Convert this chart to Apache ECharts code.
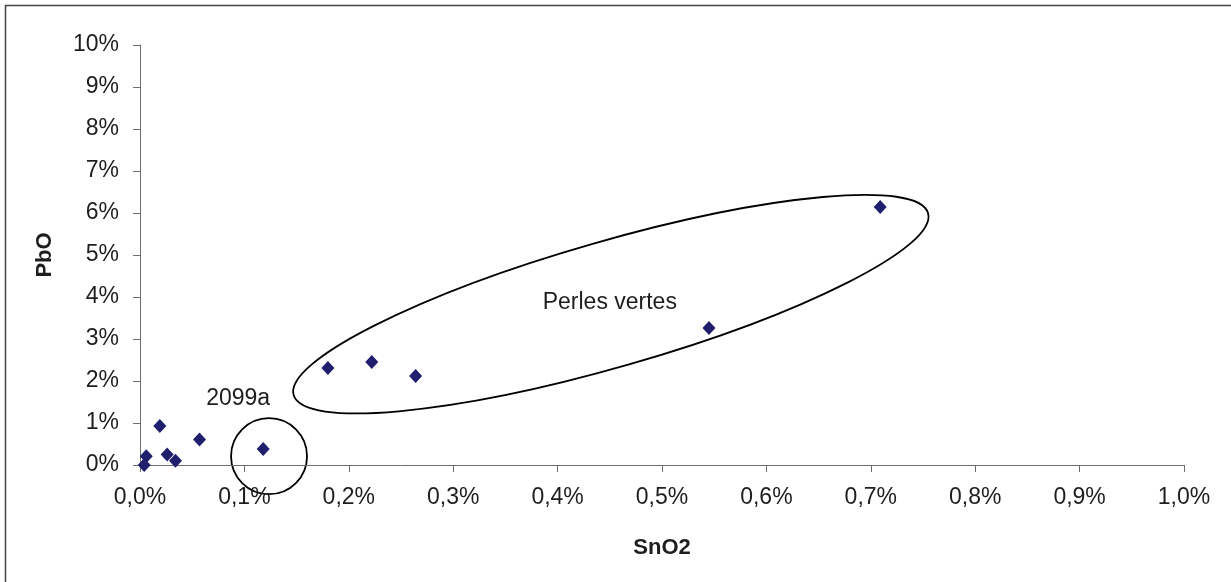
<!DOCTYPE html>
<html>
<head>
<meta charset="utf-8">
<script src="https://cdn.jsdelivr.net/npm/echarts@6/dist/echarts.min.js"></script>
<style>
  html, body { margin: 0; padding: 0; background: #ffffff; }
  #chart { width: 1231px; height: 582px; }
</style>
</head>
<body>
<div id="chart"></div>
<script>
// SnO2 (%) and PbO (%) values
const sno2 = [0.004, 0.006, 0.019, 0.026, 0.034, 0.057, 0.118, 0.180, 0.222, 0.264, 0.545, 0.709];
const pbo  = [0.00, 0.21, 0.93, 0.25, 0.10, 0.61, 0.38, 2.31, 2.45, 2.12, 3.26, 6.14];

const xTickLabels = ['0,0%', '0,1%', '0,2%', '0,3%', '0,4%', '0,5%', '0,6%', '0,7%', '0,8%', '0,9%', '1,0%'];
const yTickLabels = ['0%', '1%', '2%', '3%', '4%', '5%', '6%', '7%', '8%', '9%', '10%'];

const xTitle = 'SnO2';
const yTitle = 'PbO';
const groupLabels = ['Perles vertes', '2099a'];

const FONT = '"Liberation Sans", Arial, sans-serif';
const TXT = '#1e1e1e';
const AX = '#6e6e6e';

const chart = echarts.init(document.getElementById('chart'), null, { renderer: 'canvas' });

const points = sno2.map((v, i) => [v, pbo[i]]);

chart.setOption({
  animation: false,
  backgroundColor: '#ffffff',
  grid: { left: 140, top: 45, right: 47, bottom: 117, containLabel: false },
  xAxis: {
    type: 'value', min: 0, max: 1.0, interval: 0.1,
    name: xTitle, nameLocation: 'middle', nameGap: 72,
    nameTextStyle: { color: TXT, fontFamily: FONT, fontSize: 22, fontWeight: 'bold' },
    axisLine: { show: true, onZero: false, lineStyle: { color: AX, width: 1 } },
    axisTick: { show: true, inside: false, length: 7, lineStyle: { color: AX } },
    splitLine: { show: false },
    axisLabel: {
      margin: 21, color: TXT, fontFamily: FONT, fontSize: 23,
      formatter: v => xTickLabels[Math.round(v * 10)]
    }
  },
  yAxis: {
    type: 'value', min: 0, max: 10, interval: 1,
    name: yTitle, nameLocation: 'middle', nameGap: 95, nameRotate: 90,
    nameTextStyle: { color: TXT, fontFamily: FONT, fontSize: 22, fontWeight: 'bold', verticalAlign: 'middle' },
    axisLine: { show: true, onZero: false, lineStyle: { color: AX, width: 1 } },
    axisTick: { show: true, inside: false, length: 7, lineStyle: { color: AX } },
    splitLine: { show: false },
    axisLabel: {
      margin: 21, color: TXT, fontFamily: FONT, fontSize: 23,
      formatter: v => yTickLabels[Math.round(v)]
    }
  },
  series: [{
    type: 'scatter',
    data: points,
    symbol: 'diamond',
    symbolSize: [13, 14],
    itemStyle: { color: '#1f1f6e', opacity: 1 }
  }]
});

// Annotation anchors in data units (SnO2 %, PbO %)
const ellipseCenter = chart.convertToPixel({ gridIndex: 0 }, [0.451, 3.83]);
const circleCenter = chart.convertToPixel({ gridIndex: 0 }, [0.1236, 0.21]);
const perlesPos = chart.convertToPixel({ gridIndex: 0 }, [0.450, 3.87]);
const labelPos = chart.convertToPixel({ gridIndex: 0 }, [0.094, 1.57]);

chart.setOption({
  graphic: [
    {
      type: 'polyline', silent: true,
      shape: { points: [[5.5, 582], [5.5, 5.5], [1231, 5.5]] },
      style: { fill: 'none', stroke: '#444444', lineWidth: 1.5 }
    },
    {
      type: 'ellipse', silent: true,
      x: ellipseCenter[0], y: ellipseCenter[1],
      rotation: 16 * Math.PI / 180,
      shape: { cx: 0, cy: 0, rx: 330, ry: 63 },
      style: { fill: 'none', stroke: '#000000', lineWidth: 1.8 }
    },
    {
      type: 'circle', silent: true,
      shape: { cx: circleCenter[0], cy: circleCenter[1], r: 38 },
      style: { fill: 'none', stroke: '#000000', lineWidth: 1.8 }
    },
    {
      type: 'text', silent: true,
      x: perlesPos[0], y: perlesPos[1],
      style: { text: groupLabels[0], fill: TXT, font: '23px ' + FONT, textAlign: 'center', textVerticalAlign: 'middle' }
    },
    {
      type: 'text', silent: true,
      x: labelPos[0], y: labelPos[1],
      style: { text: groupLabels[1], fill: TXT, font: '23px ' + FONT, textAlign: 'center', textVerticalAlign: 'middle' }
    }
  ]
});
</script>
</body>
</html>
